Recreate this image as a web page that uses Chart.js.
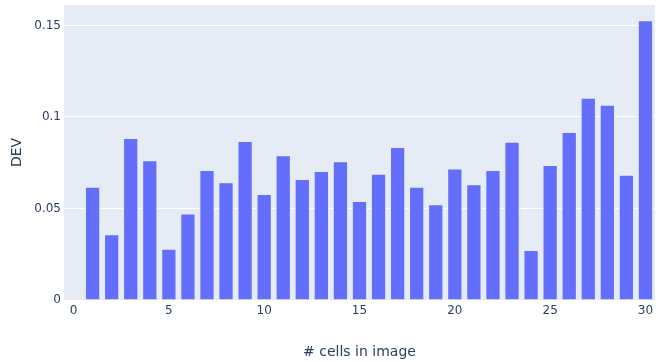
<!DOCTYPE html>
<html>
<head>
<meta charset="utf-8">
<script src="https://cdn.jsdelivr.net/npm/chart.js@4/dist/chart.umd.min.js"></script>
<style>
  html, body { margin: 0; padding: 0; background: #fff; }
  #wrap { width: 661px; height: 362px; }
</style>
</head>
<body>
<div id="wrap"><canvas id="dev-chart" width="661" height="362"></canvas></div>
<script>
// Ecart (DEV) selon le nombre de cellules dans l'image
const cellCounts = [1, 2, 3, 4, 5, 6, 7, 8, 9, 10, 11, 12, 13, 14, 15, 16, 17, 18, 19, 20, 21, 22, 23, 24, 25, 26, 27, 28, 29, 30];
const devValues = [0.0619, 0.0359, 0.0885, 0.0763, 0.0280, 0.0472, 0.0710, 0.0643, 0.0869, 0.0579,
  0.0791, 0.0661, 0.0705, 0.0758, 0.0541, 0.0690, 0.0836, 0.0619, 0.0523, 0.0718,
  0.0632, 0.0710, 0.0865, 0.0273, 0.0738, 0.0918, 0.1105, 0.1067, 0.0685, 0.1528];
const xTickStep = 5;
const yTickStep = 0.05;

const INK = "#2a3f5f";
const FONT = "'DejaVu Sans', Verdana, Arial, sans-serif";

// fond gris-bleu de la zone de trace, facon plotly
const plotBg = {
  id: "plotBg",
  beforeDraw(chart) {
    const { ctx, chartArea: a } = chart;
    ctx.save();
    ctx.fillStyle = "#E5ECF6";
    ctx.fillRect(a.left, a.top, a.right - a.left, a.bottom - a.top);
    ctx.restore();
  },
};

new Chart(document.getElementById("dev-chart"), {
  type: "bar",
  data: {
    datasets: [{
      label: "DEV",
      data: cellCounts.map((c, i) => ({ x: c, y: devValues[i] })),
      backgroundColor: "#636EFA",
      borderColor: "rgba(229,236,246,.7)",
      borderWidth: 1,
      categoryPercentage: 1,
      barPercentage: 0.8,
    }],
  },
  options: {
    responsive: false,
    animation: false,
    layout: { padding: { left: 0, right: 6, top: 5, bottom: 0 } },
    plugins: { legend: { display: false }, tooltip: { enabled: false } },
    scales: {
      x: {
        type: "linear",
        offset: false,
        min: -0.5,
        max: 30.5,
        grid: { display: false, drawTicks: false },
        border: { display: false },
        ticks: {
          stepSize: xTickStep,
          includeBounds: false,
          padding: 4,
          maxRotation: 0,
          color: INK,
          font: { family: FONT, size: 12 },
        },
        title: {
          display: true,
          text: "# cells in image",
          color: INK,
          font: { family: FONT, size: 14 },
          padding: { top: 0, bottom: 1 },
        },
        afterFit(scale) {
          scale.height = 62;
          scale.paddingLeft = 0;
          scale.paddingRight = 0;
        },
      },
      y: {
        min: 0,
        max: 0.1612,
        grid: { color: "#ffffff", lineWidth: 1, drawTicks: false },
        border: { display: false },
        ticks: {
          stepSize: yTickStep,
          includeBounds: false,
          padding: 3,
          color: INK,
          font: { family: FONT, size: 12 },
          callback: v => String(Number(v.toFixed(3))),
        },
        title: {
          display: true,
          text: "DEV",
          color: INK,
          font: { family: FONT, size: 14 },
          padding: { top: 9, bottom: 0 },
        },
        afterFit(scale) {
          scale.width = 64;
          // pas de marge auto pour les labels : la zone colle en haut
          scale.paddingTop = 0;
          scale.paddingBottom = 0;
        },
      },
    },
  },
  plugins: [plotBg],
});
</script>
</body>
</html>
